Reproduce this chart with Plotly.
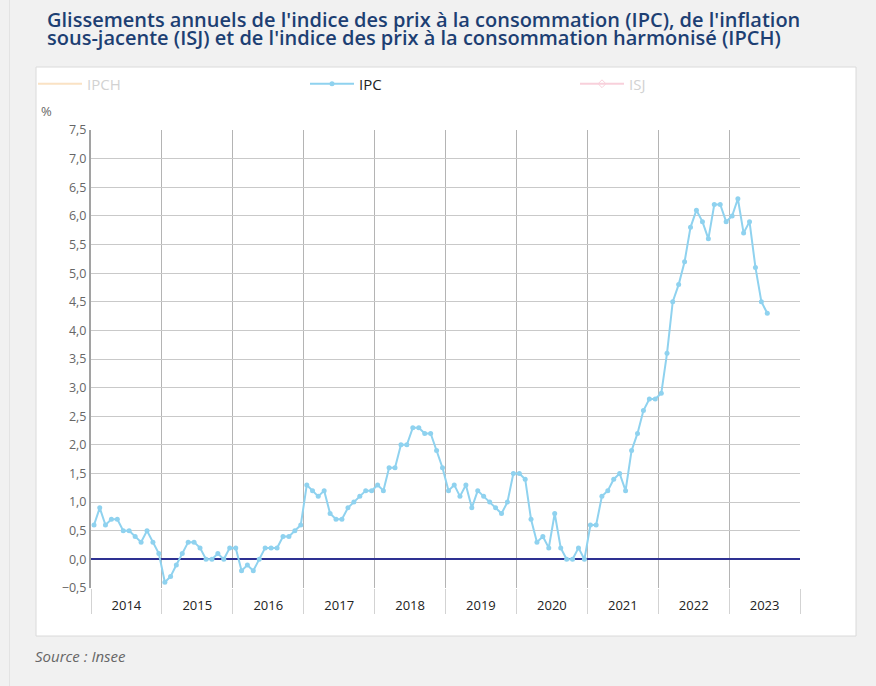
import pandas as pd
import plotly.graph_objects as go

# Glissement annuel de l'IPC (%), mois par mois
ipc_2014 = [0.6, 0.9, 0.6, 0.7, 0.7, 0.5, 0.5, 0.4, 0.3, 0.5, 0.3, 0.1]
ipc_2015 = [-0.4, -0.3, -0.1, 0.1, 0.3, 0.3, 0.2, 0.0, 0.0, 0.1, 0.0, 0.2]
ipc_2016 = [0.2, -0.2, -0.1, -0.2, 0.0, 0.2, 0.2, 0.2, 0.4, 0.4, 0.5, 0.6]
ipc_2017 = [1.3, 1.2, 1.1, 1.2, 0.8, 0.7, 0.7, 0.9, 1.0, 1.1, 1.2, 1.2]
ipc_2018 = [1.3, 1.2, 1.6, 1.6, 2.0, 2.0, 2.3, 2.3, 2.2, 2.2, 1.9, 1.6]
ipc_2019 = [1.2, 1.3, 1.1, 1.3, 0.9, 1.2, 1.1, 1.0, 0.9, 0.8, 1.0, 1.5]
ipc_2020 = [1.5, 1.4, 0.7, 0.3, 0.4, 0.2, 0.8, 0.2, 0.0, 0.0, 0.2, 0.0]
ipc_2021 = [0.6, 0.6, 1.1, 1.2, 1.4, 1.5, 1.2, 1.9, 2.2, 2.6, 2.8, 2.8]
ipc_2022 = [2.9, 3.6, 4.5, 4.8, 5.2, 5.8, 6.1, 5.9, 5.6, 6.2, 6.2, 5.9]
ipc_2023 = [6.0, 6.3, 5.7, 5.9, 5.1, 4.5, 4.3]

ipc = (ipc_2014 + ipc_2015 + ipc_2016 + ipc_2017 + ipc_2018
       + ipc_2019 + ipc_2020 + ipc_2021 + ipc_2022 + ipc_2023)
months = pd.date_range("2014-01-01", periods=len(ipc), freq="MS")

# IPCH and ISJ are switched off in the legend, their values are not shown
hidden = [None] * len(ipc)

series_names = ["IPCH", "IPC", "ISJ"]

# pixel geometry of the plot area
L, R, T, B = 91, 800, 130, 588
W, H = R - L, B - T


def px(x):
    return (x - L) / W


def py(y):
    return (B - y) / H


fig = go.Figure()

fig.add_trace(go.Scatter(
    x=months, y=hidden, name="<span style='color:#a6a6a6'>" + series_names[0] + "</span>",
    mode="lines", visible="legendonly", legend="legend",
    line=dict(color="#f7c68a", width=2),
))
fig.add_trace(go.Scatter(
    x=months, y=ipc, name=series_names[1],
    mode="lines+markers", legend="legend2",
    xperiod="M1", xperiodalignment="middle",
    line=dict(color="#8fd2ef", width=2),
    marker=dict(color="#8fd2ef", size=5),
    hovertemplate="%{x|%b %Y}: %{y:.1f}<extra></extra>",
))
fig.add_trace(go.Scatter(
    x=months, y=hidden, name="<span style='color:#a6a6a6'>" + series_names[2] + "</span>",
    mode="lines+markers", visible="legendonly", legend="legend3",
    line=dict(color="#f3a3b8", width=2),
    marker=dict(color="#f3a3b8", size=6, symbol="diamond-open"),
))

# white card behind the chart + thin page edge line
fig.add_shape(type="rect", xref="paper", yref="paper",
              x0=px(36), x1=px(856), y0=py(636), y1=py(67),
              fillcolor="white", line=dict(color="#dadada", width=1), layer="below")
fig.add_shape(type="line", xref="paper", yref="paper",
              x0=px(9.5), x1=px(9.5), y0=py(686), y1=py(0),
              line=dict(color="#e3e3e3", width=1), layer="below")

title_font = dict(family="Open Sans", size=20, color="#1d3f73", weight=600)
fig.add_annotation(text="Glissements annuels de l'indice des prix à la consommation (IPC), de l'inflation",
                   xref="paper", yref="paper", x=px(45), y=py(19.5), xanchor="left", yanchor="middle",
                   showarrow=False, font=title_font)
fig.add_annotation(text="sous-jacente (ISJ) et de l'indice des prix à la consommation harmonisé (IPCH)",
                   xref="paper", yref="paper", x=px(45), y=py(37.5), xanchor="left", yanchor="middle",
                   showarrow=False, font=title_font)
fig.add_annotation(text="%", xref="paper", yref="paper", x=px(46), y=py(111),
                   xanchor="center", yanchor="middle", showarrow=False,
                   font=dict(family="Open Sans", size=13, color="#666"))
fig.add_annotation(text="<i>Source : Insee</i>", xref="paper", yref="paper", x=px(33), y=py(656),
                   xanchor="left", yanchor="middle", showarrow=False,
                   font=dict(family="Open Sans", size=15, color="#666"))

legend_style = dict(
    orientation="h", xanchor="left", yanchor="middle", y=py(84),
    itemwidth=44, font=dict(size=15, color="#222"), bgcolor="rgba(0,0,0,0)",
)

fig.update_layout(
    width=876, height=686,
    margin=dict(l=L, r=876 - R, t=T, b=686 - B),
    paper_bgcolor="#f1f1f1",
    plot_bgcolor="rgba(0,0,0,0)",
    separators=", ",
    font=dict(family="Open Sans", color="#222"),
    showlegend=True,
    legend=dict(legend_style, x=px(33)),
    legend2=dict(legend_style, x=px(305)),
    legend3=dict(legend_style, x=px(575)),
    xaxis=dict(
        type="date", range=["2014-01-01", "2024-01-01"],
        tick0="2014-01-01", dtick="M12", tickformat="%Y", ticklabelmode="period",
        ticks="outside", ticklen=25, tickcolor="#d3d3d3", tickwidth=1,
        ticklabelstandoff=-20,
        showgrid=True, gridcolor="#b4b4b4", gridwidth=1,
        showline=False, zeroline=False,
        tickfont=dict(size=13, color="#222"),
    ),
    yaxis=dict(
        range=[-0.501, 7.501], tick0=0, dtick=0.5, tickformat=".1f",
        showgrid=True, gridcolor="#c9c9c9", gridwidth=1,
        zeroline=True, zerolinecolor="#2e3192", zerolinewidth=2,
        showline=True, linecolor="#a2a2a2", linewidth=2,
        ticks="", tickfont=dict(size=12.5, color="#666"),
    ),
    yaxis2=dict(
        overlaying="y", side="right", anchor="x",
        range=[-0.501, 7.501], tick0=0, dtick=0.5, tickformat=".1f",
        showgrid=False, zeroline=False,
        showline=True, linecolor="#a2a2a2", linewidth=2,
        ticks="", tickfont=dict(size=12.5, color="#666"),
    ),
)

# the page is photographed from its top-left corner: drop the default body margin
fig.write_html("out.html", config={"displayModeBar": False},
               post_script="document.body.style.margin='0';")
